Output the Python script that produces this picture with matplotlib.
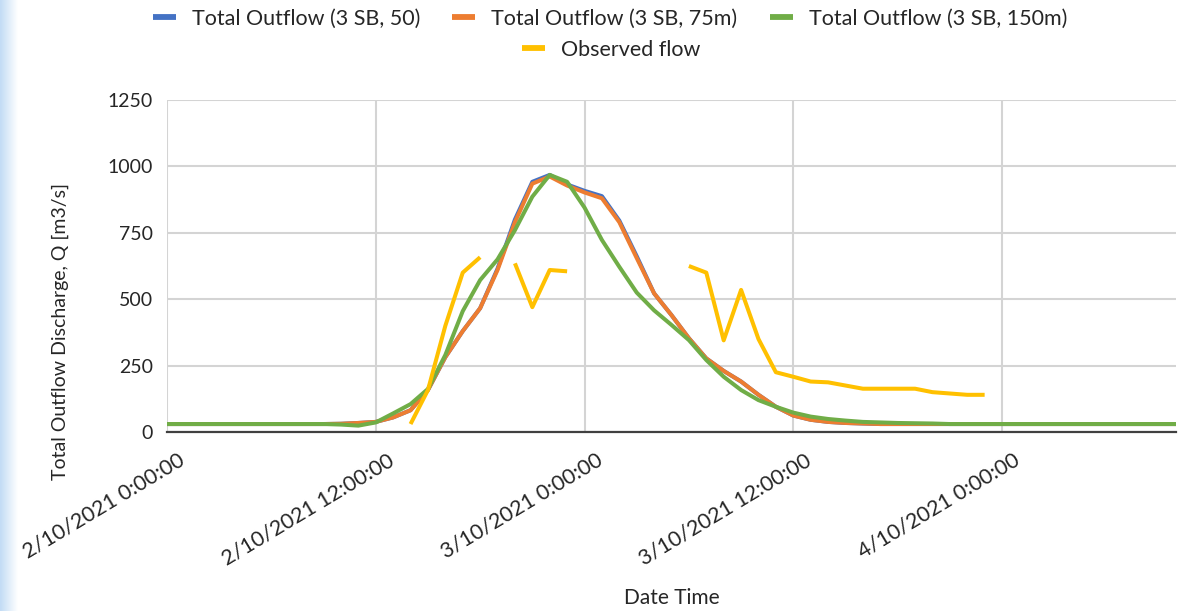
import numpy as np
import pandas as pd
import matplotlib
matplotlib.use('Agg')
import matplotlib.pyplot as plt
from matplotlib.lines import Line2D
from matplotlib.transforms import ScaledTranslation

plt.rcParams['font.family'] = ['Lato', 'DejaVu Sans']

# ---------------- data (hourly) ----------------
times = pd.date_range('2021-10-02 00:00', periods=59, freq='h')

q_50 = [30]*10 + [31, 34, 38, 55, 82, 158, 282, 380, 466, 615, 800, 942, 968, 932,
                  908, 888, 796, 662, 522, 440, 353, 277, 230, 190, 140, 95, 62, 46,
                  38, 34, 32] + [30]*18
q_75 = [30]*10 + [31, 34, 38, 55, 82, 158, 282, 380, 466, 610, 790, 935, 962, 928,
                  902, 880, 790, 655, 522, 440, 353, 277, 230, 190, 140, 95, 62, 46,
                  38, 34, 32] + [30]*18
q_150 = [30]*10 + [28, 24, 36, 70, 105, 162, 290, 455, 572, 650, 760, 886, 968, 942,
                   845, 723, 622, 525, 458, 403, 346, 271, 208, 158, 120, 95, 73, 58,
                   49, 43, 38, 36, 34, 33, 32] + [30]*14
nan = np.nan
observed = [nan]*14 + [30, 158, 400, 600, 658] + [nan] + [635, 470, 610, 605] + [nan]*6 + \
           [625, 600, 345, 535, 350, 225, 208, 190, 187, 175, 163, 163, 163, 163,
            150, 145, 140, 140] + [nan]*11

series_names = ['Total Outflow (3 SB, 50)', 'Total Outflow (3 SB, 75m)',
                'Total Outflow (3 SB, 150m)', 'Observed flow']
colors = ['#4472C4', '#ED7D31', '#70AD47', '#FFC000']

tick_times = pd.date_range('2021-10-02 00:00', periods=5, freq='12h')
tick_labels = ['2/10/2021 0:00:00', '2/10/2021 12:00:00', '3/10/2021 0:00:00',
               '3/10/2021 12:00:00', '4/10/2021 0:00:00']
y_ticks = [0, 250, 500, 750, 1000, 1250]

# ---------------- figure ----------------
W, H = 1188, 611
fig = plt.figure(figsize=(W/100, H/100), dpi=100)

# light blue strip at left edge (screenshot background)
bg = fig.add_axes([0, 0, 18/W, 1])
grad = np.linspace(0, 1, 50)[None, :, None]
c0 = np.array([0.76, 0.86, 0.96]); c1 = np.array([1.0, 1.0, 1.0])
img = c0 * (1 - grad) + c1 * grad
bg.imshow(np.repeat(img, 10, axis=0), aspect='auto', extent=[0, 1, 0, 1])
bg.axis('off')

ax = fig.add_axes([167/W, 1 - 432/H, (1176-167)/W, 332/H])

all_series = [q_50, q_75, q_150, observed]
for vals, c in zip(all_series, colors):
    ax.plot(times, vals, color=c, lw=2.9, solid_joinstyle='round', solid_capstyle='butt')

ax.set_xlim(times[0], times[-1])
ax.set_ylim(0, 1250)
ax.set_yticks(y_ticks)
ax.set_xticks(tick_times)
ax.set_xticklabels(tick_labels)

ax.grid(True, color='#D4D4D4', lw=1.5)
ax.set_axisbelow(True)
for s in ['top', 'right', 'left']:
    ax.spines[s].set_visible(False)
ax.spines['bottom'].set_color('#404040')
ax.spines['bottom'].set_linewidth(1.6)
ax.tick_params(axis='both', length=0)
ax.tick_params(axis='y', labelsize=14, pad=10, labelcolor='#262626')
ax.tick_params(axis='x', labelsize=15.5, pad=13, labelcolor='#262626')

off = ScaledTranslation(0.11, 0, fig.dpi_scale_trans)
for lbl in ax.get_xticklabels():
    lbl.set_rotation(31)
    lbl.set_ha('right')
    lbl.set_va('top')
    lbl.set_rotation_mode('anchor')
    lbl.set_transform(lbl.get_transform() + off)

fig.text(60/W, 1 - 331/H, 'Total Outflow Discharge, Q [m3/s]', rotation=90,
         ha='center', va='center', fontsize=14, color='#262626')
fig.text(672/W, 1 - 598/H, 'Date Time', ha='center', va='center',
         fontsize=15, color='#262626')

handles = [Line2D([], [], color=c, lw=4.2, solid_capstyle='butt') for c in colors]
leg_kw = dict(loc='center', frameon=False, fontsize=15.5,
              handlelength=1.07, handletextpad=0.74, columnspacing=1.5,
              borderpad=0, borderaxespad=0)
leg1 = fig.legend(handles[:3], series_names[:3], ncol=3,
                  bbox_to_anchor=(610/W, 1 - 19/H), **leg_kw)
leg2 = fig.legend(handles[3:], series_names[3:],
                  bbox_to_anchor=(611/W, 1 - 50/H), **leg_kw)
for lg in (leg1, leg2):
    for t in lg.get_texts():
        t.set_color('#262626')

fig.savefig('out.png', dpi=100)
